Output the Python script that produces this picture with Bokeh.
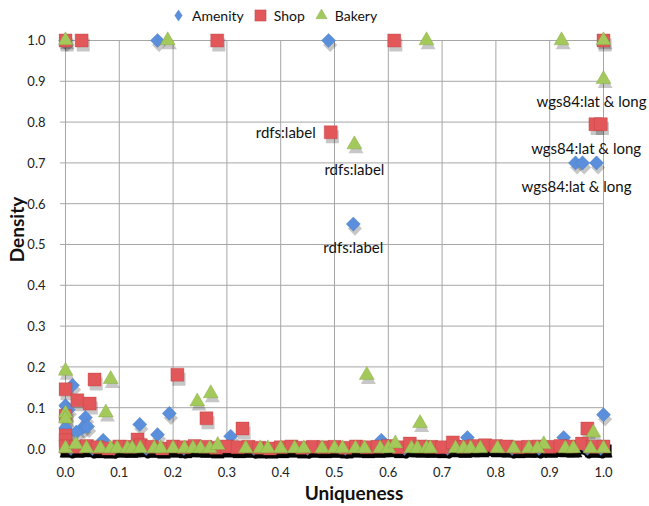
from bokeh.plotting import figure
from bokeh.models import (ColumnDataSource, Range1d, FixedTicker, PrintfTickFormatter,
                          Legend, LegendItem, LabelSet)
from bokeh.core.properties import value
from bokeh.transform import dodge
from bokeh.embed import file_html
from bokeh.resources import INLINE
import math

# ---------------- data ----------------
amenity_x = [0.0, 0.171, 0.489, 0.535, 0.948, 0.961, 0.987,
             0.013, 0.0, 0.005, 0.037, 0.032, 0.041, 0.138, 0.171, 0.193, 0.07,
             0.307, 0.587, 0.747, 0.926, 1.0, 0.0, 0.02,
             0.01, 0.05, 0.09, 0.15, 0.22, 0.35, 0.45, 0.52, 0.63, 0.71, 0.83, 0.88, 0.97, 0.995]
amenity_y = [1.0, 1.0, 1.0, 0.55, 0.70, 0.70, 0.70,
             0.155, 0.105, 0.095, 0.076, 0.051, 0.054, 0.059, 0.034, 0.086, 0.02,
             0.03, 0.02, 0.027, 0.027, 0.083, 0.05, 0.04,
             0.0, 0.0, 0.0, 0.0, 0.0, 0.0, 0.0, 0.0, 0.0, 0.0, 0.0, 0.0, 0.0, 0.0]

shop_x = [0.0, 0.03, 0.282, 0.611, 1.0, 0.493, 0.985, 0.995,
          0.0, 0.054, 0.022, 0.045, 0.208, 0.262, 0.329, 0.0, 0.0, 0.0, 0.134, 0.97,
          0.0, 0.02, 0.04, 0.06, 0.08, 0.10, 0.12, 0.14, 0.16, 0.18, 0.20, 0.22, 0.24,
          0.26, 0.28, 0.30, 0.32, 0.34, 0.36, 0.38, 0.40, 0.42, 0.44, 0.46, 0.48, 0.50,
          0.52, 0.54, 0.56, 0.58, 0.60, 0.62, 0.64, 0.66, 0.68, 0.70, 0.72, 0.74, 0.76,
          0.78, 0.80, 0.82, 0.84, 0.86, 0.88, 0.90, 0.92, 0.94, 0.96, 0.98, 1.0]
shop_y = [1.0, 1.0, 1.0, 1.0, 1.0, 0.775, 0.795, 0.795,
          0.145, 0.169, 0.118, 0.11, 0.181, 0.074, 0.049, 0.08, 0.032, 0.02, 0.022, 0.049,
          0.005, 0.004, 0.006, 0.003, 0.0, 0.005, 0.004, 0.008, 0.004, 0.0, 0.005, 0.003, 0.006,
          0.004, 0.002, 0.005, 0.003, 0.004, 0.002, 0.0, 0.003, 0.005, 0.002, 0.004, 0.003, 0.004,
          0.002, 0.005, 0.003, 0.004, 0.006, 0.003, 0.012, 0.005, 0.004, 0.003, 0.015, 0.004, 0.006,
          0.008, 0.006, 0.005, 0.003, 0.004, 0.005, 0.004, 0.006, 0.005, 0.012, 0.004, 0.005]

bakery_x = [0.0, 0.19, 0.671, 0.922, 1.0, 1.0, 0.537,
            0.0, 0.084, 0.0, 0.075, 0.245, 0.27, 0.659, 0.981, 0.56, 0.0, 0.889,
            0.0, 0.019, 0.039, 0.065, 0.084, 0.096, 0.115, 0.124, 0.139, 0.165, 0.177, 0.2,
            0.221, 0.237, 0.251, 0.268, 0.283, 0.335, 0.362, 0.376, 0.4, 0.426, 0.443, 0.477,
            0.5, 0.515, 0.539, 0.556, 0.585, 0.6, 0.613, 0.643, 0.654, 0.671, 0.678, 0.725,
            0.74, 0.753, 0.771, 0.803, 0.833, 0.861, 0.877, 0.929, 0.944, 0.976, 1.0]
bakery_y = [1.0, 1.0, 1.0, 1.0, 1.0, 0.905, 0.745,
            0.19, 0.17, 0.086, 0.088, 0.115, 0.135, 0.062, 0.039, 0.18, 0.073, 0.01,
            0.0, 0.01, 0.0, 0.0, 0.0, 0.0, 0.0, 0.0, 0.0, 0.0, 0.0, 0.0,
            0.0, 0.0, 0.0, 0.0, 0.008, 0.0, 0.0, 0.0, 0.0, 0.0, 0.0, 0.0,
            0.0, 0.0, 0.0, 0.0, 0.0, 0.0, 0.012, 0.0, 0.0, 0.0, 0.0, 0.0,
            0.0, 0.0, 0.0, 0.0, 0.0, 0.0, 0.0, 0.0, 0.0, 0.0, 0.0]

label_text = ["rdfs:label", "rdfs:label", "rdfs:label",
              "wgs84:lat & long", "wgs84:lat & long", "wgs84:lat & long"]
label_x = [0.493, 0.537, 0.535, 1.0, 0.99, 0.948]
label_y = [0.775, 0.745, 0.55, 0.905, 0.795, 0.70]

ticks = [0.0, 0.1, 0.2, 0.3, 0.4, 0.5, 0.6, 0.7, 0.8, 0.9, 1.0]

# ---------------- figure ----------------
FONT = "Lato"
p = figure(width=649, height=506, output_backend="svg", toolbar_location=None,
           x_range=Range1d(-0.013, 1.0855), y_range=Range1d(-0.0245, 1.098),
           min_border_left=58, min_border_right=0, min_border_top=0, min_border_bottom=48)
p.outline_line_color = None
p.xgrid.visible = False
p.ygrid.visible = False

# grid lines drawn only over the 0..1 box
grid_color = "#a6a6a6"
p.segment(x0=ticks, y0=[ticks[0]] * len(ticks), x1=ticks, y1=[ticks[-1]] * len(ticks),
          line_color=grid_color, line_width=1)
p.segment(x0=[ticks[0] - 0.01] * len(ticks), y0=ticks, x1=[ticks[-1]] * len(ticks), y1=ticks,
          line_color=grid_color, line_width=1)

for ax in (p.xaxis[0], p.yaxis[0]):
    ax.ticker = FixedTicker(ticks=ticks)
    ax.formatter = PrintfTickFormatter(format="%.1f")
    ax.axis_line_color = None
    ax.major_tick_line_color = None
    ax.minor_tick_line_color = None
    ax.major_label_text_font = FONT
    ax.major_label_text_font_size = "13px"
    ax.major_label_text_color = "#222222"
    ax.axis_label_text_font = FONT
    ax.axis_label_text_font_style = "bold"
    ax.axis_label_text_font_size = "19px"
    ax.axis_label_text_color = "#111111"

p.xaxis.axis_label = "Uniqueness"
p.yaxis.axis_label = "Density"
p.xaxis.major_label_standoff = 2
p.xaxis.axis_label_standoff = 1
p.yaxis.major_label_standoff = 7
p.yaxis.axis_label_standoff = -4

series = [
    ("Amenity", amenity_x, amenity_y, "square", 10, math.pi / 4, "#5B8FDB", "#3F6FB8", "diamond"),
    ("Shop", shop_x, shop_y, "square", 13, 0.0, "#E2585A", "#B23A3C", "square"),
    ("Bakery", bakery_x, bakery_y, "triangle", 15, 0.0, "#A3C95B", "#7A9E3A", "triangle"),
]

sources = []
for name, xs, ys, marker, size, angle, fill, line, legend_marker in series:
    shadow_alpha = [1.0 if v < 0.02 else 0.22 for v in ys]
    src = ColumnDataSource(data=dict(x=xs, y=ys, sa=shadow_alpha))
    sources.append(src)

# drop shadows first (below every coloured marker)
for (name, xs, ys, marker, size, angle, fill, line, legend_marker), src in zip(series, sources):
    p.scatter(x=dodge("x", 0.003), y=dodge("y", -0.011), source=src, marker=marker,
              size=size, angle=angle, fill_color="black", line_color=None, fill_alpha="sa")

items = []
for (name, xs, ys, marker, size, angle, fill, line, legend_marker), src in zip(series, sources):
    p.scatter(x="x", y="y", source=src, marker=marker, size=size, angle=angle,
              fill_color=fill, line_color=line, line_width=0.6, line_alpha=0.6)
    # legend swatch renderer (not drawn in the plot)
    swatch = p.scatter(x="x", y="y", source=src, marker=legend_marker, size=size,
                       fill_color=fill, line_color=line, line_width=0.6, line_alpha=0.6,
                       visible=False)
    items.append(LegendItem(label=name, renderers=[swatch]))

legend = Legend(items=items, orientation="horizontal", location=(106, 429),
                glyph_width=28, glyph_height=28, label_standoff=-10, spacing=2,
                padding=0, margin=0, border_line_color=None, background_fill_alpha=0,
                label_text_font=FONT, label_text_font_size="14px", label_height=16,
                label_text_color="#111111")
p.add_layout(legend)

lab_src = ColumnDataSource(data=dict(
    x=label_x, y=label_y, text=label_text,
    xo=[-15, 0, 0, -12, -12, 1],
    yo=[0, -24, -23, -22, -24, -23],
    align=["right", "center", "center", "center", "center", "center"]))
labels = LabelSet(x="x", y="y", text="text", source=lab_src, x_offset="xo", y_offset="yo",
                  text_align="align", text_baseline="middle", text_font=value(FONT),
                  text_font_size="15px", text_color="#111111")
p.add_layout(labels)

open("out.html", "w").write(file_html(p, INLINE))
